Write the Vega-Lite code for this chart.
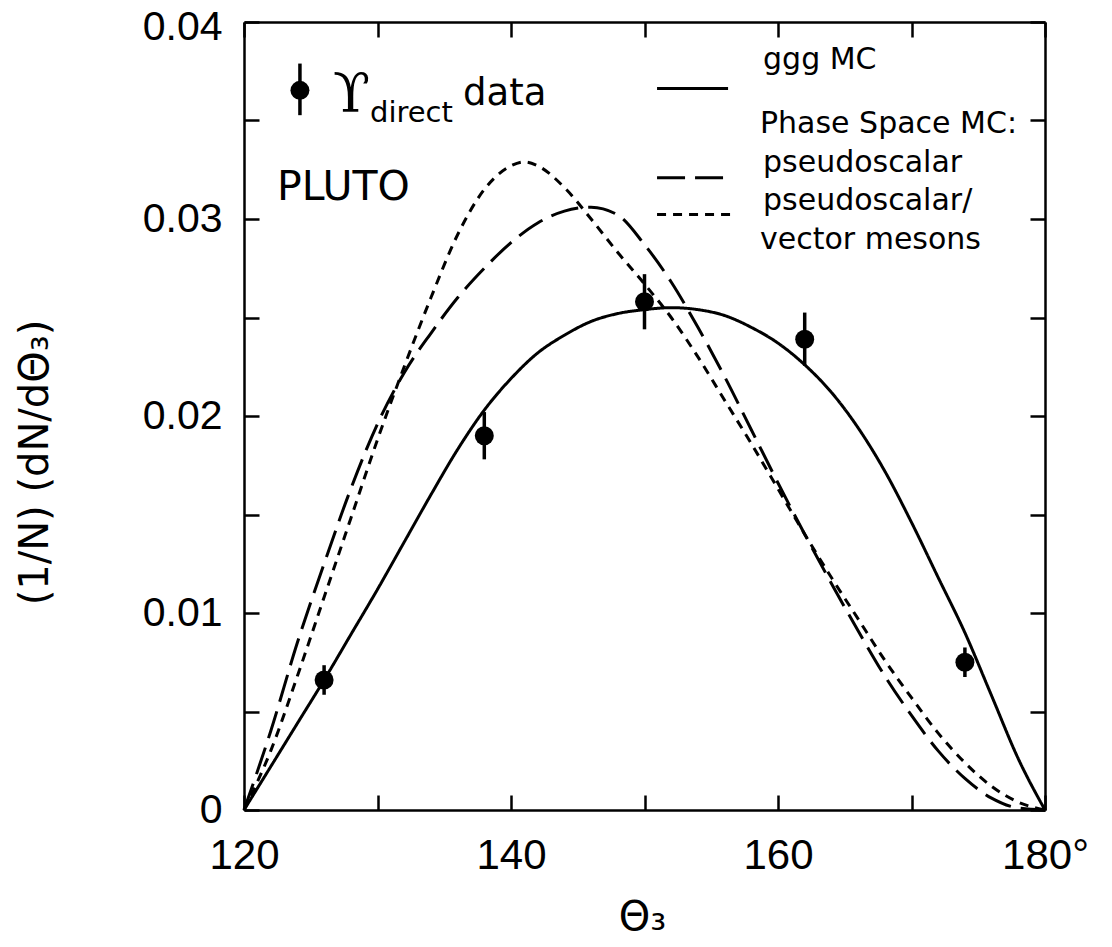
{
  "$schema": "https://vega.github.io/schema/vega-lite/v6.json",
  "autosize": "none",
  "width": 801,
  "height": 788,
  "padding": {"left": 244, "top": 22, "right": 67, "bottom": 137},
  "background": "white",
  "config": {
    "view": {"stroke": null},
    "axis": {"grid": false, "domainColor": "black", "domainWidth": 2.5, "tickColor": "black", "tickWidth": 2.5, "tickSize": -15, "labelColor": "black", "titleColor": "black"}
  },
  "datasets": {
    "curves": [
      {"theta": 120, "val": 0.0, "model": "ggg MC"},
      {"theta": 122, "val": 0.0022, "model": "ggg MC"},
      {"theta": 124, "val": 0.0044, "model": "ggg MC"},
      {"theta": 126, "val": 0.0066, "model": "ggg MC"},
      {"theta": 128, "val": 0.0089, "model": "ggg MC"},
      {"theta": 130, "val": 0.0112, "model": "ggg MC"},
      {"theta": 132, "val": 0.0136, "model": "ggg MC"},
      {"theta": 134, "val": 0.016, "model": "ggg MC"},
      {"theta": 136, "val": 0.0183, "model": "ggg MC"},
      {"theta": 138, "val": 0.0203, "model": "ggg MC"},
      {"theta": 140, "val": 0.0219, "model": "ggg MC"},
      {"theta": 142, "val": 0.0232, "model": "ggg MC"},
      {"theta": 144, "val": 0.0241, "model": "ggg MC"},
      {"theta": 146, "val": 0.0248, "model": "ggg MC"},
      {"theta": 148, "val": 0.0252, "model": "ggg MC"},
      {"theta": 150, "val": 0.0254, "model": "ggg MC"},
      {"theta": 152, "val": 0.0255, "model": "ggg MC"},
      {"theta": 154, "val": 0.0254, "model": "ggg MC"},
      {"theta": 156, "val": 0.0251, "model": "ggg MC"},
      {"theta": 158, "val": 0.0245, "model": "ggg MC"},
      {"theta": 160, "val": 0.0237, "model": "ggg MC"},
      {"theta": 162, "val": 0.0226, "model": "ggg MC"},
      {"theta": 164, "val": 0.0212, "model": "ggg MC"},
      {"theta": 166, "val": 0.0194, "model": "ggg MC"},
      {"theta": 168, "val": 0.0172, "model": "ggg MC"},
      {"theta": 170, "val": 0.0146, "model": "ggg MC"},
      {"theta": 172, "val": 0.0118, "model": "ggg MC"},
      {"theta": 174, "val": 0.009, "model": "ggg MC"},
      {"theta": 176, "val": 0.0058, "model": "ggg MC"},
      {"theta": 178, "val": 0.0026, "model": "ggg MC"},
      {"theta": 180, "val": 0.0, "model": "ggg MC"},
      {"theta": 120, "val": 0.0, "model": "pseudoscalar"},
      {"theta": 122, "val": 0.004, "model": "pseudoscalar"},
      {"theta": 124, "val": 0.0085, "model": "pseudoscalar"},
      {"theta": 126, "val": 0.0125, "model": "pseudoscalar"},
      {"theta": 128, "val": 0.0163, "model": "pseudoscalar"},
      {"theta": 130, "val": 0.0196, "model": "pseudoscalar"},
      {"theta": 132, "val": 0.0222, "model": "pseudoscalar"},
      {"theta": 134, "val": 0.0242, "model": "pseudoscalar"},
      {"theta": 136, "val": 0.026, "model": "pseudoscalar"},
      {"theta": 138, "val": 0.0275, "model": "pseudoscalar"},
      {"theta": 140, "val": 0.0288, "model": "pseudoscalar"},
      {"theta": 142, "val": 0.0298, "model": "pseudoscalar"},
      {"theta": 144, "val": 0.0304, "model": "pseudoscalar"},
      {"theta": 146, "val": 0.0306, "model": "pseudoscalar"},
      {"theta": 148, "val": 0.0302, "model": "pseudoscalar"},
      {"theta": 150, "val": 0.0287, "model": "pseudoscalar"},
      {"theta": 152, "val": 0.0268, "model": "pseudoscalar"},
      {"theta": 154, "val": 0.0245, "model": "pseudoscalar"},
      {"theta": 156, "val": 0.022, "model": "pseudoscalar"},
      {"theta": 158, "val": 0.0193, "model": "pseudoscalar"},
      {"theta": 160, "val": 0.0166, "model": "pseudoscalar"},
      {"theta": 162, "val": 0.014, "model": "pseudoscalar"},
      {"theta": 164, "val": 0.0115, "model": "pseudoscalar"},
      {"theta": 166, "val": 0.0091, "model": "pseudoscalar"},
      {"theta": 168, "val": 0.0068, "model": "pseudoscalar"},
      {"theta": 170, "val": 0.0048, "model": "pseudoscalar"},
      {"theta": 172, "val": 0.003, "model": "pseudoscalar"},
      {"theta": 174, "val": 0.0016, "model": "pseudoscalar"},
      {"theta": 176, "val": 0.0006, "model": "pseudoscalar"},
      {"theta": 178, "val": 0.0001, "model": "pseudoscalar"},
      {"theta": 180, "val": 0.0, "model": "pseudoscalar"},
      {"theta": 120, "val": 0.0, "model": "pseudoscalar/vector mesons"},
      {"theta": 122, "val": 0.003, "model": "pseudoscalar/vector mesons"},
      {"theta": 124, "val": 0.0068, "model": "pseudoscalar/vector mesons"},
      {"theta": 126, "val": 0.0108, "model": "pseudoscalar/vector mesons"},
      {"theta": 128, "val": 0.0148, "model": "pseudoscalar/vector mesons"},
      {"theta": 130, "val": 0.0188, "model": "pseudoscalar/vector mesons"},
      {"theta": 132, "val": 0.0225, "model": "pseudoscalar/vector mesons"},
      {"theta": 134, "val": 0.026, "model": "pseudoscalar/vector mesons"},
      {"theta": 136, "val": 0.0292, "model": "pseudoscalar/vector mesons"},
      {"theta": 138, "val": 0.0315, "model": "pseudoscalar/vector mesons"},
      {"theta": 140, "val": 0.0327, "model": "pseudoscalar/vector mesons"},
      {"theta": 141, "val": 0.0329, "model": "pseudoscalar/vector mesons"},
      {"theta": 142, "val": 0.0327, "model": "pseudoscalar/vector mesons"},
      {"theta": 144, "val": 0.0316, "model": "pseudoscalar/vector mesons"},
      {"theta": 146, "val": 0.03, "model": "pseudoscalar/vector mesons"},
      {"theta": 148, "val": 0.0283, "model": "pseudoscalar/vector mesons"},
      {"theta": 150, "val": 0.0267, "model": "pseudoscalar/vector mesons"},
      {"theta": 152, "val": 0.025, "model": "pseudoscalar/vector mesons"},
      {"theta": 154, "val": 0.023, "model": "pseudoscalar/vector mesons"},
      {"theta": 156, "val": 0.0208, "model": "pseudoscalar/vector mesons"},
      {"theta": 158, "val": 0.0186, "model": "pseudoscalar/vector mesons"},
      {"theta": 160, "val": 0.0163, "model": "pseudoscalar/vector mesons"},
      {"theta": 162, "val": 0.014, "model": "pseudoscalar/vector mesons"},
      {"theta": 164, "val": 0.0118, "model": "pseudoscalar/vector mesons"},
      {"theta": 166, "val": 0.0097, "model": "pseudoscalar/vector mesons"},
      {"theta": 168, "val": 0.0076, "model": "pseudoscalar/vector mesons"},
      {"theta": 170, "val": 0.0057, "model": "pseudoscalar/vector mesons"},
      {"theta": 172, "val": 0.0039, "model": "pseudoscalar/vector mesons"},
      {"theta": 174, "val": 0.0024, "model": "pseudoscalar/vector mesons"},
      {"theta": 176, "val": 0.0012, "model": "pseudoscalar/vector mesons"},
      {"theta": 178, "val": 0.0004, "model": "pseudoscalar/vector mesons"},
      {"theta": 180, "val": 0.0, "model": "pseudoscalar/vector mesons"}
    ],
    "keys": [
      {"theta": 150.94, "val": 0.03663, "model": "ggg MC"},
      {"theta": 156.26, "val": 0.03663, "model": "ggg MC"},
      {"theta": 150.94, "val": 0.03209, "model": "pseudoscalar"},
      {"theta": 156.26, "val": 0.03209, "model": "pseudoscalar"},
      {"theta": 150.94, "val": 0.03023, "model": "pseudoscalar/vector mesons"},
      {"theta": 156.63, "val": 0.03023, "model": "pseudoscalar/vector mesons"}
    ],
    "measured": [
      {"theta": 126, "val": 0.0066, "lo": 0.00585, "hi": 0.00735},
      {"theta": 138, "val": 0.019, "lo": 0.0178, "hi": 0.0202},
      {"theta": 150, "val": 0.0258, "lo": 0.0244, "hi": 0.0272},
      {"theta": 162, "val": 0.0239, "lo": 0.02255, "hi": 0.02525},
      {"theta": 174, "val": 0.0075, "lo": 0.00675, "hi": 0.00825}
    ],
    "dataKey": [
      {"theta": 124.19, "val": 0.03653, "lo": 0.03527, "hi": 0.03789}
    ],
    "keyText": [
      {"theta": 158.88, "val": 0.03763, "text": "ggg MC"},
      {"theta": 158.65, "val": 0.03436, "text": "Phase Space MC:"},
      {"theta": 158.88, "val": 0.03239, "text": "pseudoscalar"},
      {"theta": 158.88, "val": 0.03048, "text": "pseudoscalar/"},
      {"theta": 158.65, "val": 0.02846, "text": "vector mesons"}
    ]
  },
  "encoding": {
    "x": {"field": "theta", "type": "quantitative", "scale": {"domain": [120, 180], "nice": false, "zero": false}},
    "y": {"field": "val", "type": "quantitative", "scale": {"domain": [0, 0.04], "nice": false}}
  },
  "resolve": {"axis": {"x": "independent", "y": "independent"}},
  "layer": [
    {
      "data": {"name": "curves"},
      "mark": {"type": "line", "interpolate": "monotone", "color": "black", "strokeWidth": 3},
      "encoding": {
        "x": {"field": "theta", "type": "quantitative", "axis": {
          "orient": "bottom", "values": [120, 130, 140, 150, 160, 170, 180],
          "labelExpr": "datum.value == 180 ? '180°' : (datum.value % 20 == 0 ? datum.label : '')",
          "labelFont": "Liberation Sans", "labelFontSize": 42, "labelPadding": 40, "labelFlush": false, "labelOverlap": false,
          "title": "Θ₃", "titleFont": "DejaVu Sans", "titleFontSize": 40, "titleFontWeight": "normal",
          "titleX": 398, "titleY": 107, "titleBaseline": "middle", "titleAlign": "center"
        }},
        "y": {"field": "val", "type": "quantitative", "axis": {
          "orient": "left", "values": [0, 0.005, 0.01, 0.015, 0.02, 0.025, 0.03, 0.035, 0.04],
          "labelExpr": "datum.value == 0 ? '0' : (abs(datum.value * 100 - round(datum.value * 100)) < 0.000001 ? format(datum.value, '.2f') : '')",
          "labelFont": "Liberation Sans", "labelFontSize": 41, "labelPadding": 37, "labelFlush": false, "labelOverlap": false,
          "labelOffset": {"condition": {"test": "datum.value >= 0.04", "value": 5}, "value": 0},
          "title": "(1/N) (dN/dΘ₃)", "titleFont": "DejaVu Sans", "titleFontSize": 40, "titleFontWeight": "normal",
          "titleX": -209, "titleY": 440, "titleAngle": -90, "titleBaseline": "middle", "titleAlign": "center"
        }},
        "strokeDash": {"field": "model", "type": "nominal", "legend": null,
          "scale": {"domain": ["ggg MC", "pseudoscalar", "pseudoscalar/vector mesons"], "range": [[1, 0], [28, 10], [9, 7]]}}
      }
    },
    {
      "data": {"name": "keys"},
      "mark": {"type": "line", "color": "black", "strokeWidth": 3},
      "encoding": {
        "x": {"field": "theta", "type": "quantitative", "axis": {
          "orient": "top", "values": [120, 130, 140, 150, 160, 170, 180], "labels": false, "title": null
        }},
        "y": {"field": "val", "type": "quantitative", "axis": {
          "orient": "right", "values": [0, 0.005, 0.01, 0.015, 0.02, 0.025, 0.03, 0.035, 0.04], "labels": false, "title": null
        }},
        "strokeDash": {"field": "model", "type": "nominal", "legend": null}
      }
    },
    {
      "data": {"name": "measured"},
      "mark": {"type": "rule", "color": "black", "strokeWidth": 3.5},
      "encoding": {
        "x": {"field": "theta", "type": "quantitative", "axis": null},
        "y": {"field": "lo", "type": "quantitative", "axis": null},
        "y2": {"field": "hi"}
      }
    },
    {
      "data": {"name": "measured"},
      "mark": {"type": "point", "shape": "circle", "filled": true, "color": "black", "opacity": 1, "size": 360},
      "encoding": {
        "x": {"field": "theta", "type": "quantitative", "axis": null},
        "y": {"field": "val", "type": "quantitative", "axis": null}
      }
    },
    {
      "data": {"name": "dataKey"},
      "mark": {"type": "rule", "color": "black", "strokeWidth": 3.5},
      "encoding": {
        "x": {"field": "theta", "type": "quantitative", "axis": null},
        "y": {"field": "lo", "type": "quantitative", "axis": null},
        "y2": {"field": "hi"}
      }
    },
    {
      "data": {"name": "dataKey"},
      "mark": {"type": "point", "shape": "circle", "filled": true, "color": "black", "opacity": 1, "size": 360},
      "encoding": {
        "x": {"field": "theta", "type": "quantitative", "axis": null},
        "y": {"field": "val", "type": "quantitative", "axis": null}
      }
    },
    {
      "data": {"name": "keyText"},
      "mark": {"type": "text", "font": "DejaVu Sans", "fontSize": 30, "align": "left", "baseline": "alphabetic", "color": "black"},
      "encoding": {
        "x": {"field": "theta", "type": "quantitative", "axis": null},
        "y": {"field": "val", "type": "quantitative", "axis": null},
        "text": {"field": "text"}
      }
    },
    {
      "data": {"values": [{"theta": 126.67, "val": 0.03542, "text": "ϒ"}]},
      "mark": {"type": "text", "font": "DejaVu Serif", "fontSize": 54, "align": "left", "baseline": "alphabetic", "color": "black"},
      "encoding": {
        "x": {"field": "theta", "type": "quantitative", "axis": null},
        "y": {"field": "val", "type": "quantitative", "axis": null},
        "text": {"field": "text"}
      }
    },
    {
      "data": {"values": [{"theta": 129.44, "val": 0.03491, "text": "direct"}]},
      "mark": {"type": "text", "font": "DejaVu Sans", "fontSize": 29, "align": "left", "baseline": "alphabetic", "color": "black"},
      "encoding": {
        "x": {"field": "theta", "type": "quantitative", "axis": null},
        "y": {"field": "val", "type": "quantitative", "axis": null},
        "text": {"field": "text"}
      }
    },
    {
      "data": {"values": [{"theta": 136.41, "val": 0.03577, "text": "data"}]},
      "mark": {"type": "text", "font": "DejaVu Sans", "fontSize": 37, "align": "left", "baseline": "alphabetic", "color": "black"},
      "encoding": {
        "x": {"field": "theta", "type": "quantitative", "axis": null},
        "y": {"field": "val", "type": "quantitative", "axis": null},
        "text": {"field": "text"}
      }
    },
    {
      "data": {"values": [{"theta": 122.47, "val": 0.03098, "text": "PLUTO"}]},
      "mark": {"type": "text", "font": "DejaVu Sans", "fontSize": 41, "align": "left", "baseline": "alphabetic", "color": "black"},
      "encoding": {
        "x": {"field": "theta", "type": "quantitative", "axis": null},
        "y": {"field": "val", "type": "quantitative", "axis": null},
        "text": {"field": "text"}
      }
    }
  ]
}
